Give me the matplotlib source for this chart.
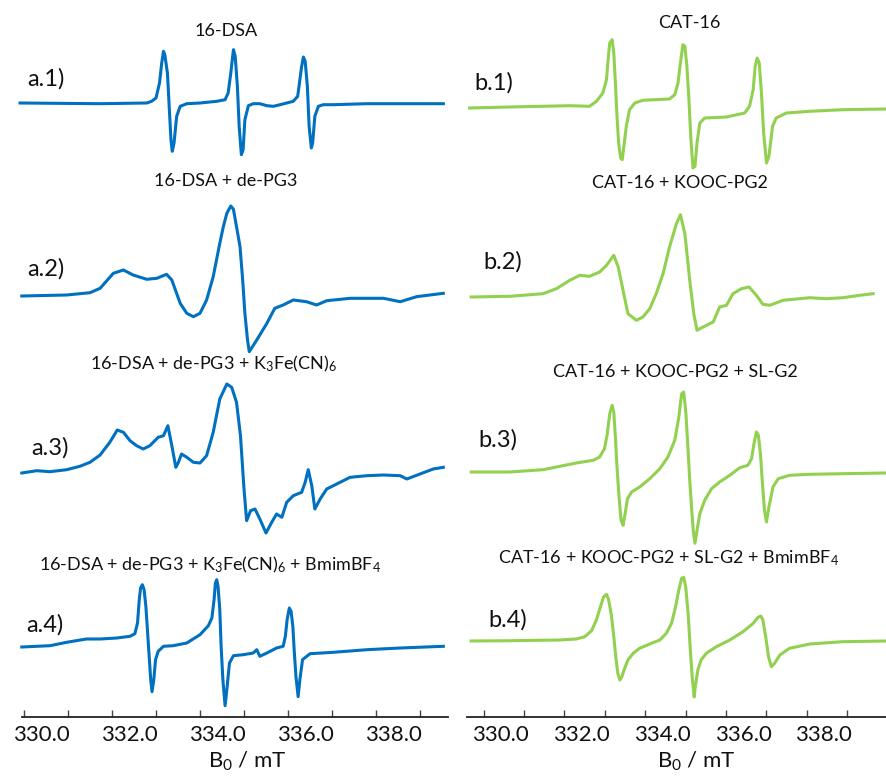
import matplotlib
matplotlib.use('Agg')
import matplotlib.pyplot as plt
from matplotlib.ticker import MultipleLocator, FormatStrFormatter
from matplotlib.transforms import ScaledTranslation

plt.rcParams['font.family'] = ['Lato', 'DejaVu Sans']
plt.rcParams['mathtext.fontset'] = 'custom'
plt.rcParams['mathtext.rm'] = 'Lato'

BLUE = "#0070C0"
GREEN = "#92D050"

# --- 16-DSA series (left column), field in mT, signal in a.u. ---
a1_field = [329.91, 331.73, 332.79, 332.90, 333.00, 333.08, 333.13, 333.17, 333.20, 333.26,
            333.30, 333.34, 333.37, 333.41, 333.47, 333.55, 333.70, 334.00, 334.38, 334.57,
            334.64, 334.70, 334.76, 334.80, 334.85, 334.89, 334.94, 334.98, 335.02, 335.10,
            335.21, 335.36, 335.52, 335.67, 335.82, 335.97, 336.12, 336.22, 336.27, 336.31,
            336.35, 336.39, 336.44, 336.48, 336.53, 336.56, 336.61, 336.69, 336.80, 337.03,
            337.79, 339.53]
a1_signal = [0, -0.7, 0, 1.7, 5, 20, 40, 51.7, 48.3, 30,
             -3.3, -36.7, -48.3, -40, -13.3, -3.3, -0.7, 0, 1.7, 3.3,
             10, 30, 53.3, 46.7, 16.7, -23.3, -51.7, -46.7, -16.7, -2.7,
             -0.7, -0.7, -2.7, -3.3, -1.7, 0, 1.7, 6.7, 23.3, 36.7,
             46, 41.7, 16.7, -23.3, -45, -40, -13.3, -3.3, -1.7, -1.7,
             -0.7, -0.7]

a2_field = [329.95, 330.97, 331.50, 331.73, 332.03, 332.26, 332.48, 332.79, 333.02, 333.24,
            333.36, 333.55, 333.70, 333.85, 334.00, 334.15, 334.30, 334.45, 334.53, 334.61,
            334.70, 334.76, 334.83, 334.91, 334.97, 335.02, 335.08, 335.12, 335.29, 335.52,
            335.70, 335.89, 336.12, 336.42, 336.65, 336.88, 337.41, 338.17, 338.55, 338.92,
            339.53]
a2_signal = [0, 1, 3.3, 7.7, 22.7, 26, 21, 16.7, 17.7, 21.7,
             16, -7.3, -17.3, -20.7, -17.3, -4, 19.3, 52.7, 69.3, 82.7,
             90, 86.7, 69.3, 49.3, 16, -17.3, -44, -55.7, -44, -27.3,
             -12.3, -9, -4, -5.7, -9, -4.7, -2.3, -2.3, -5.7, -0.7,
             2.7]

a3_field = [329.95, 330.29, 330.59, 330.97, 331.27, 331.50, 331.73, 331.95, 332.12, 332.26,
            332.41, 332.56, 332.71, 332.86, 333.05, 333.17, 333.27, 333.36, 333.45, 333.51,
            333.58, 333.70, 333.85, 334.00, 334.15, 334.30, 334.45, 334.61, 334.72, 334.83,
            334.92, 335.00, 335.06, 335.15, 335.25, 335.36, 335.50, 335.63, 335.74, 335.86,
            335.97, 336.12, 336.31, 336.39, 336.46, 336.54, 336.61, 336.73, 336.88, 337.03,
            337.41, 337.79, 338.17, 338.55, 338.70, 339.00, 339.30, 339.53]
a3_signal = [0, 2.3, 1.3, 3.3, 6.7, 10.7, 18, 30.7, 43, 40.7,
             32.3, 27.3, 24, 27.3, 35.7, 37.3, 47.3, 27.3, 5.7, 10.7,
             19, 15.7, 10.7, 10, 17.3, 40.7, 74, 89, 85.7, 70.7,
             37.3, -16, -47.7, -37.7, -36, -46, -60, -49.3, -41, -44.3,
             -29.3, -22.7, -19.3, -9.3, 3.3, -12.7, -36, -26, -16, -12.7,
             -4.3, -2.7, -2, -2.7, -6, -1, 4, 5.7]

a4_field = [329.95, 330.59, 330.97, 331.42, 331.73, 332.11, 332.41, 332.52, 332.58, 332.62,
            332.65, 332.69, 332.73, 332.77, 332.81, 332.85, 332.88, 332.91, 332.95, 332.99,
            333.05, 333.17, 333.39, 333.70, 334.00, 334.19, 334.27, 334.32, 334.35, 334.38,
            334.41, 334.45, 334.48, 334.52, 334.57, 334.61, 334.67, 334.76, 334.98, 335.21,
            335.29, 335.36, 335.52, 335.74, 335.89, 335.94, 335.98, 336.03, 336.07, 336.11,
            336.14, 336.18, 336.23, 336.27, 336.33, 336.50, 337.03, 337.79, 338.55, 339.53]
a4_signal = [0, 1.3, 4.7, 8, 8, 9, 10.7, 13.3, 24, 47.3,
             59, 62.3, 57.3, 40.7, 14, -12.7, -32.7, -44.7, -32.7, -12.7,
             -4.3, 0.7, 1.3, 4, 12.3, 21.3, 29, 47.3, 64, 67.3,
             60.7, 37.3, 0.7, -32.7, -58.7, -42.7, -16, -8.7, -7.7, -6,
             -2.7, -9.3, -6, -1, 0.7, 10.7, 27.3, 39, 35.7, 20.7,
             -2.7, -29.3, -49.7, -32.7, -12.7, -6.7, -5.3, -2.7, -1, 0.7]

# --- CAT-16 series (right column) ---
b1_field = [329.65, 330.64, 332.13, 332.62, 332.79, 332.95, 333.04, 333.08, 333.12, 333.18,
            333.22, 333.26, 333.30, 333.34, 333.39, 333.43, 333.47, 333.53, 333.61, 333.74,
            333.94, 334.60, 334.73, 334.81, 334.87, 334.93, 334.98, 335.03, 335.08, 335.13,
            335.18, 335.23, 335.28, 335.35, 335.47, 336.01, 336.46, 336.58, 336.67, 336.72,
            336.77, 336.82, 336.87, 336.93, 337.00, 337.06, 337.15, 337.24, 337.49, 338.07,
            338.89, 339.97]
b1_signal = [0, 1, 2.3, 1.7, 6.7, 15, 28.3, 48.3, 65, 68.3,
             55, 25, -8.3, -35, -50, -51.7, -38.3, -18.3, -1.7, 5,
             7.7, 9, 13.3, 25, 45, 63.3, 61.7, 41.7, 8.3, -31.7,
             -60, -58.3, -35, -15, -10, -9, -5, 1.7, 18.3, 41.7,
             50, 45, 18.3, -25, -55, -48.3, -18.3, -10, -5, -3.3,
             -1.7, -1]

b2_field = [329.69, 330.64, 331.47, 331.80, 332.13, 332.38, 332.62, 332.87, 333.04, 333.22,
            333.33, 333.45, 333.57, 333.78, 333.94, 334.11, 334.27, 334.44, 334.60, 334.77,
            334.87, 334.98, 335.10, 335.20, 335.28, 335.43, 335.68, 335.84, 336.01, 336.17,
            336.38, 336.57, 336.75, 336.91, 337.08, 337.41, 338.07, 338.48, 338.89, 339.31,
            339.64]
b2_signal = [0, 0.7, 3.3, 8.3, 16.7, 21.7, 20.7, 25, 31.7, 41.7,
             30, 6.7, -16.7, -23.3, -20, -11.7, 3.3, 23.3, 50, 73.3,
             82.3, 63.3, 16.7, -16.7, -33.3, -30, -25, -10, -8.3, 3.3,
             8.3, 10, 1.7, -7.3, -8.3, -3.3, -0.7, -1.7, -0.7, 1.7,
             3.3]

b3_field = [329.69, 330.64, 331.47, 332.29, 332.71, 332.87, 332.99, 333.06, 333.12, 333.18,
            333.22, 333.26, 333.30, 333.35, 333.40, 333.45, 333.50, 333.56, 333.66, 333.86,
            334.11, 334.36, 334.56, 334.73, 334.83, 334.90, 334.95, 335.00, 335.05, 335.10,
            335.15, 335.19, 335.23, 335.28, 335.35, 335.47, 335.64, 335.84, 336.09, 336.34,
            336.54, 336.63, 336.69, 336.75, 336.80, 336.85, 336.90, 336.95, 337.00, 337.06,
            337.16, 337.29, 337.57, 338.07, 338.89, 339.97]
b3_signal = [0, 0, 2.3, 9, 11.7, 15, 23.3, 38.3, 58.3, 66.7,
             60, 35, 5, -25, -48.3, -53.3, -41.7, -26.7, -20, -15,
             -6.7, 3.3, 15, 31.7, 55, 78.3, 80, 61.7, 28.3, -8.3,
             -38.3, -60, -71.3, -58.3, -41.7, -28.3, -16.7, -10, -3.3, 4.3,
             6.7, 13.3, 28.3, 40, 36.7, 18.3, -11.7, -38.3, -50, -35,
             -15, -6.7, -3.3, -2.3, -1.7, -1]

b4_field = [329.69, 330.64, 331.88, 332.29, 332.50, 332.67, 332.79, 332.89, 332.97, 333.04,
            333.09, 333.16, 333.22, 333.27, 333.32, 333.37, 333.42, 333.49, 333.57, 333.70,
            333.86, 334.11, 334.36, 334.52, 334.65, 334.75, 334.83, 334.90, 334.95, 335.00,
            335.06, 335.11, 335.16, 335.21, 335.24, 335.30, 335.38, 335.51, 335.76, 336.09,
            336.42, 336.67, 336.79, 336.86, 336.91, 336.98, 337.05, 337.12, 337.20, 337.33,
            337.57, 338.07, 338.89, 339.97]
b4_signal = [0, 0.3, 1, 2, 4.3, 10.3, 21, 34.3, 44.3, 46.7,
             41.7, 26, 4.3, -15.7, -32.3, -39, -35.7, -27.3, -19, -12.3,
             -7.3, -3, 1, 7.7, 17.7, 34.3, 51, 62.7, 63.7, 54.3,
             27.7, -5.7, -35.7, -56, -45, -29, -19, -12.3, -5.7, 1,
             9.3, 17.7, 23.7, 25, 21, 4.3, -15.7, -25.7, -22.3, -14,
             -7.3, -3, -0.7, 0]

left_titles = ["16-DSA",
               "16-DSA + de-PG3",
               "16-DSA + de-PG3 + K$\\mathregular{_3}$Fe(CN)$\\mathregular{_6}$",
               "16-DSA + de-PG3 + K$\\mathregular{_3}$Fe(CN)$\\mathregular{_6}$ + BmimBF$\\mathregular{_4}$"]
right_titles = ["CAT-16",
                "CAT-16 + KOOC-PG2",
                "CAT-16 + KOOC-PG2 + SL-G2",
                "CAT-16 + KOOC-PG2 + SL-G2 + BmimBF$\\mathregular{_4}$"]
left_tags = ["a.1)", "a.2)", "a.3)", "a.4)"]
right_tags = ["b.1)", "b.2)", "b.3)", "b.4)"]

W, H = 886, 776
fig = plt.figure(figsize=(W / 100, H / 100), dpi=100)


def px(x, y):
    # pixel position (from top-left) -> figure fraction
    return x / W, 1 - y / H


def make_panel(rect, xlim, traces, color, offsets, titles, title_pos, tags, tag_pos, label_x):
    ax = fig.add_axes(rect)
    for (field, signal), off in zip(traces, offsets):
        ax.plot(field, [off + s for s in signal], color=color, lw=2.2, clip_on=False,
                solid_joinstyle='round')
    ax.set_xlim(*xlim)
    ax.set_ylim(0, rect[3] * H)
    for side in ("left", "right", "top"):
        ax.spines[side].set_visible(False)
    ax.spines["bottom"].set_linewidth(1.3)
    ax.spines["bottom"].set_color("#222222")
    ax.set_yticks([])
    ax.xaxis.set_major_locator(MultipleLocator(2.0))
    ax.xaxis.set_minor_locator(MultipleLocator(1.0))
    ax.xaxis.set_major_formatter(FormatStrFormatter("%.1f"))
    ax.tick_params(axis="x", which="both", direction="in", length=5, width=1, color="#444444")
    ax.tick_params(axis="x", which="major", labelsize=16, pad=6, labelcolor="#111111")
    # tick labels sit a little to the right of their tick marks
    shift = ScaledTranslation(17 / 100, 0, fig.dpi_scale_trans)
    for lab in ax.get_xticklabels():
        lab.set_transform(lab.get_transform() + shift)
    ax.set_xlabel("B$\\mathregular{_0}$ / mT", fontsize=16, color="#111111")
    ax.xaxis.set_label_coords(label_x, -0.045)
    ax.patch.set_visible(False)
    for t, (tx, ty) in zip(titles, title_pos):
        fig.text(*px(tx, ty), t, ha="center", va="center", fontsize=13, color="#111111")
    for t, (tx, ty) in zip(tags, tag_pos):
        fig.text(*px(tx, ty), t, ha="left", va="center", fontsize=17, color="#111111")
    return ax


bottom = (H - 717) / H
height = 717 / H

make_panel([22 / W, bottom, 426 / W, height], (329.955, 339.636),
           [(a1_field, a1_signal), (a2_field, a2_signal), (a3_field, a3_signal), (a4_field, a4_signal)],
           BLUE, [614, 421, 244, 70], left_titles,
           [(226, 31), (226, 181), (213, 364), (210, 565)],
           left_tags, [(27, 79), (27, 269), (31, 448), (26, 625)], 0.528)

make_panel([467 / W, bottom, 419 / W, height], (329.587, 339.958),
           [(b1_field, b1_signal), (b2_field, b2_signal), (b3_field, b3_signal), (b4_field, b4_signal)],
           GREEN, [609, 420, 245, 76], right_titles,
           [(689, 23), (680, 183), (675, 372), (669, 558)],
           right_tags, [(474, 83), (483, 262), (478, 440), (488, 620)], 0.547)

fig.savefig("out.png", dpi=100)
